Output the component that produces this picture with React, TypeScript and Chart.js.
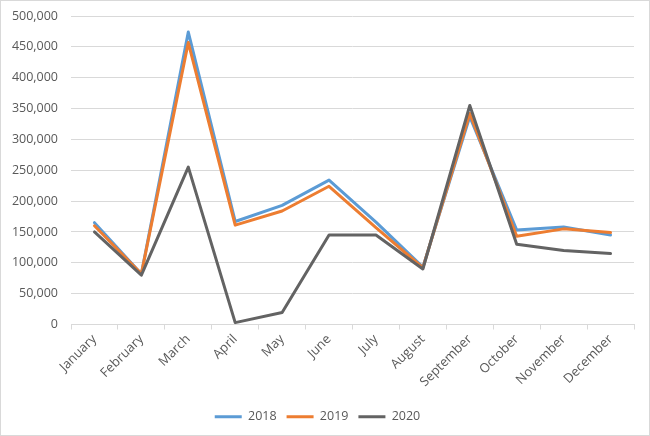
import React, { useEffect, useRef } from "react";
import { Chart, registerables } from "chart.js";

Chart.register(...registerables);

const months = ["January", "February", "March", "April", "May", "June", "July", "August", "September", "October", "November", "December"];
const series2018 = [165000, 82000, 474000, 167000, 193000, 234000, 166000, 93000, 337000, 153000, 158000, 145000];
const series2019 = [160000, 82000, 457000, 161000, 184000, 224000, 157000, 92000, 342000, 143000, 155000, 149000];
const series2020 = [150000, 80000, 255000, 3000, 19500, 145000, 145000, 90000, 355000, 130000, 120000, 115000];
const seriesLabels = ["2018", "2019", "2020"];
const seriesColors = ["#5B9BD5", "#ED7D31", "#636363"];

const FONT = "'Open Sans', 'DejaVu Sans', sans-serif";
const TEXT = "#595959";
const GRID = "#d9d9d9";

export default function App() {
  const ref = useRef<HTMLCanvasElement | null>(null);

  useEffect(() => {
    if (!ref.current) return;
    const values = [series2018, series2019, series2020];
    const chart = new Chart(ref.current, {
      type: "line",
      data: {
        labels: months,
        datasets: values.map((v, i) => ({
          label: seriesLabels[i],
          data: v,
          borderColor: seriesColors[i],
          backgroundColor: seriesColors[i],
          borderWidth: 3,
          pointRadius: 0,
          pointHoverRadius: 0,
          tension: 0,
          borderJoinStyle: "round" as const,
          borderCapStyle: "round" as const,
          order: 3 - i,
        })),
      },
      options: {
        responsive: false,
        animation: false,
        maintainAspectRatio: false,
        layout: { padding: { top: 15, right: 15, bottom: 2, left: 0 } },
        plugins: {
          tooltip: { enabled: false },
          legend: {
            position: "bottom",
            labels: {
              font: { family: FONT, size: 12.5 },
              color: TEXT,
              boxWidth: 27,
              boxHeight: 3,
              padding: 10,
              sort: (a: any, b: any) => a.datasetIndex - b.datasetIndex,
              generateLabels: (c: any) => {
                const items = Chart.defaults.plugins.legend.labels.generateLabels(c);
                return items.map((it: any) => ({ ...it, lineWidth: 0, strokeStyle: "rgba(0,0,0,0)" }));
              },
            },
          },
        },
        scales: {
          x: {
            offset: true,
            grid: {
              offset: true,
              drawOnChartArea: false,
              drawTicks: true,
              tickLength: 5,
              color: GRID,
            },
            border: { display: true, color: GRID, width: 1 },
            ticks: {
              minRotation: 45,
              maxRotation: 45,
              autoSkip: false,
              font: { family: FONT, size: 13 },
              color: TEXT,
              padding: 2,
            },
            afterFit: (s: any) => {
              s.height = 76;
            },
          },
          y: {
            min: 0,
            max: 500000,
            grid: { color: GRID, drawTicks: false, lineWidth: 1 },
            border: { display: false },
            ticks: {
              stepSize: 50000,
              font: { family: FONT, size: 12.5 },
              color: TEXT,
              padding: 13,
              callback: (v: any) => Number(v).toLocaleString("en-US"),
            },
            afterFit: (s: any) => {
              s.width = 70;
              s.paddingTop = 7;
              s.paddingBottom = 7;
            },
          },
        },
      },
    });
    return () => chart.destroy();
  }, []);

  return (
    <div
      style={{
        position: "absolute",
        left: 0,
        top: 0,
        width: 650,
        height: 436,
        boxSizing: "border-box",
        border: "1px solid #d9d9d9",
        background: "#fff",
      }}
    >
      <canvas ref={ref} width={648} height={434} style={{ display: "block" }} />
    </div>
  );
}
